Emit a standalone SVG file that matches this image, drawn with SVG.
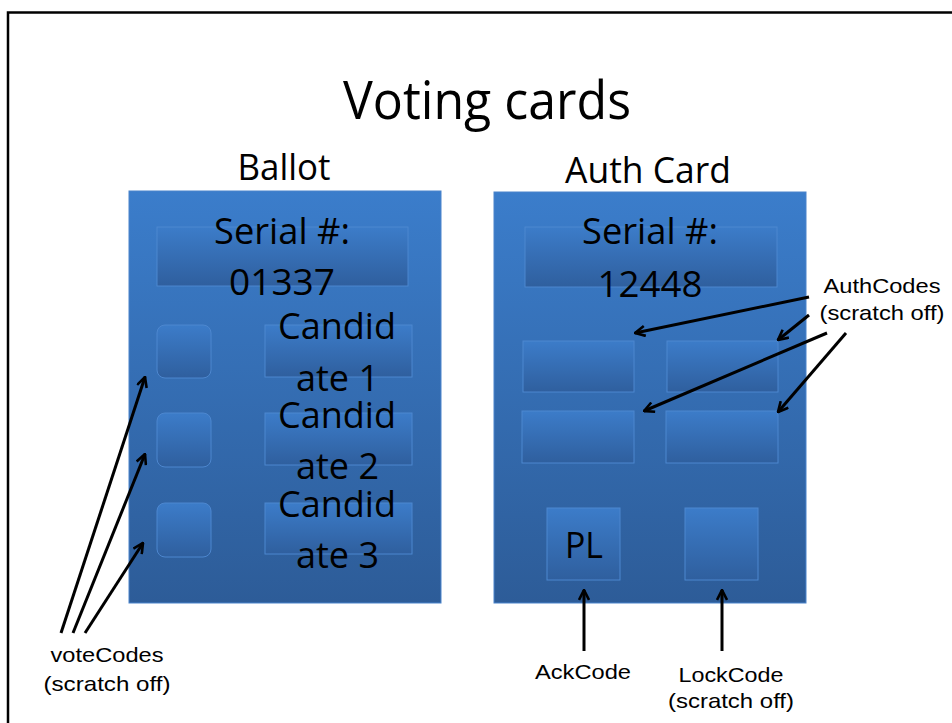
<svg xmlns="http://www.w3.org/2000/svg" width="952" height="723" viewBox="0 0 952 723">
<defs>
<linearGradient id="cardGrad" x1="0" y1="0" x2="0" y2="1">
<stop offset="0" stop-color="#3b7dcb"/>
<stop offset="1" stop-color="#2d5c98"/>
</linearGradient>
<linearGradient id="boxGrad" x1="0" y1="0" x2="0" y2="1">
<stop offset="0" stop-color="#3c7cc9"/>
<stop offset="1" stop-color="#2f5f9e"/>
</linearGradient>
<marker id="arr" viewBox="0 0 12 12" refX="11" refY="6" markerWidth="12" markerHeight="12" markerUnits="userSpaceOnUse" orient="auto">
<path d="M1,1 L11,6 L1,11" fill="none" stroke="#000" stroke-width="2.6"/>
</marker>
<style>
.card{fill:url(#cardGrad);stroke:#4a84cc;stroke-width:1}
.box{fill:url(#boxGrad);stroke:#4d87cf;stroke-width:1}
.big{font-family:"Open Sans","Noto Sans",sans-serif;font-size:37px;fill:#000;text-anchor:middle}
.head{font-family:"Open Sans","Noto Sans",sans-serif;font-size:37px;fill:#000;text-anchor:middle}
.title{font-family:"Open Sans","Noto Sans",sans-serif;font-size:53px;fill:#000;text-anchor:middle}
.lbl{font-family:"Liberation Sans",Arial,sans-serif;font-size:21px;fill:#000;text-anchor:middle}
.conn{stroke:#000;stroke-width:3;fill:none;marker-end:url(#arr)}
</style>
</defs>
<rect x="0" y="0" width="952" height="723" fill="#fff"/>
<rect x="8" y="12.5" width="960" height="720" fill="#fff" stroke="#000" stroke-width="2.5"/>

<g id="title">
<text class="title" x="487" y="119" textLength="288" lengthAdjust="spacingAndGlyphs">Voting cards</text>
</g>

<g id="ballot">
<text class="head" x="284" y="180" textLength="93" lengthAdjust="spacingAndGlyphs">Ballot</text>
<rect class="card" x="129" y="191" width="312" height="412"/>
<rect class="box" x="157" y="227" width="251" height="59"/>
<text class="big" x="282" y="244" textLength="136" lengthAdjust="spacingAndGlyphs">Serial #:</text>
<text class="big" x="282" y="295" textLength="106" lengthAdjust="spacingAndGlyphs">01337</text>
<rect class="box" x="157" y="325" width="54" height="53" rx="8"/>
<rect class="box" x="157" y="413" width="54" height="54" rx="8"/>
<rect class="box" x="157" y="503" width="54" height="54" rx="8"/>
<rect class="box" x="265" y="325" width="147" height="52"/>
<rect class="box" x="265" y="413" width="147" height="52"/>
<rect class="box" x="265" y="503" width="147" height="51"/>
<text class="big" x="337" y="339" textLength="118" lengthAdjust="spacingAndGlyphs">Candid</text>
<text class="big" x="337.5" y="391" textLength="83" lengthAdjust="spacingAndGlyphs">ate 1</text>
<text class="big" x="337" y="428" textLength="118" lengthAdjust="spacingAndGlyphs">Candid</text>
<text class="big" x="337.5" y="479" textLength="83" lengthAdjust="spacingAndGlyphs">ate 2</text>
<text class="big" x="337" y="517" textLength="118" lengthAdjust="spacingAndGlyphs">Candid</text>
<text class="big" x="337.5" y="568" textLength="83" lengthAdjust="spacingAndGlyphs">ate 3</text>
</g>

<g id="authcard">
<text class="head" x="648" y="183" textLength="166" lengthAdjust="spacingAndGlyphs">Auth Card</text>
<rect class="card" x="494" y="192" width="312" height="411"/>
<rect class="box" x="525" y="227" width="252" height="60"/>
<text class="big" x="650" y="244" textLength="136" lengthAdjust="spacingAndGlyphs">Serial #:</text>
<text class="big" x="650" y="297" textLength="105" lengthAdjust="spacingAndGlyphs">12448</text>
<rect class="box" x="523" y="341" width="111" height="51"/>
<rect class="box" x="667" y="341" width="111" height="51"/>
<rect class="box" x="522" y="411" width="112" height="52"/>
<rect class="box" x="666" y="411" width="112" height="52"/>
<rect class="box" x="547" y="508" width="73" height="72"/>
<rect class="box" x="685" y="508" width="73" height="72"/>
<text class="big" x="584" y="558" textLength="38" lengthAdjust="spacingAndGlyphs">PL</text>
</g>

<g id="labels">
<text class="lbl" x="882" y="293" textLength="117" lengthAdjust="spacingAndGlyphs">AuthCodes</text>
<text class="lbl" x="882" y="320" textLength="125" lengthAdjust="spacingAndGlyphs">(scratch off)</text>
<text class="lbl" x="107" y="662" textLength="113" lengthAdjust="spacingAndGlyphs">voteCodes</text>
<text class="lbl" x="107" y="691" textLength="127" lengthAdjust="spacingAndGlyphs">(scratch off)</text>
<text class="lbl" x="583" y="679" textLength="96" lengthAdjust="spacingAndGlyphs">AckCode</text>
<text class="lbl" x="731" y="682" textLength="105" lengthAdjust="spacingAndGlyphs">LockCode</text>
<text class="lbl" x="731" y="708" textLength="126" lengthAdjust="spacingAndGlyphs">(scratch off)</text>
</g>

<g id="connectors">
<line class="conn" x1="809" y1="297" x2="635" y2="333"/>
<line class="conn" x1="809" y1="315" x2="778" y2="340"/>
<line class="conn" x1="827" y1="333" x2="644" y2="411"/>
<line class="conn" x1="846" y1="333" x2="778" y2="412"/>
<line class="conn" x1="61" y1="633" x2="145" y2="377"/>
<line class="conn" x1="73" y1="633" x2="145" y2="454"/>
<line class="conn" x1="85" y1="633" x2="143" y2="543"/>
<line class="conn" x1="584" y1="651" x2="584" y2="590"/>
<line class="conn" x1="722" y1="651" x2="722" y2="590"/>
</g>
</svg>
